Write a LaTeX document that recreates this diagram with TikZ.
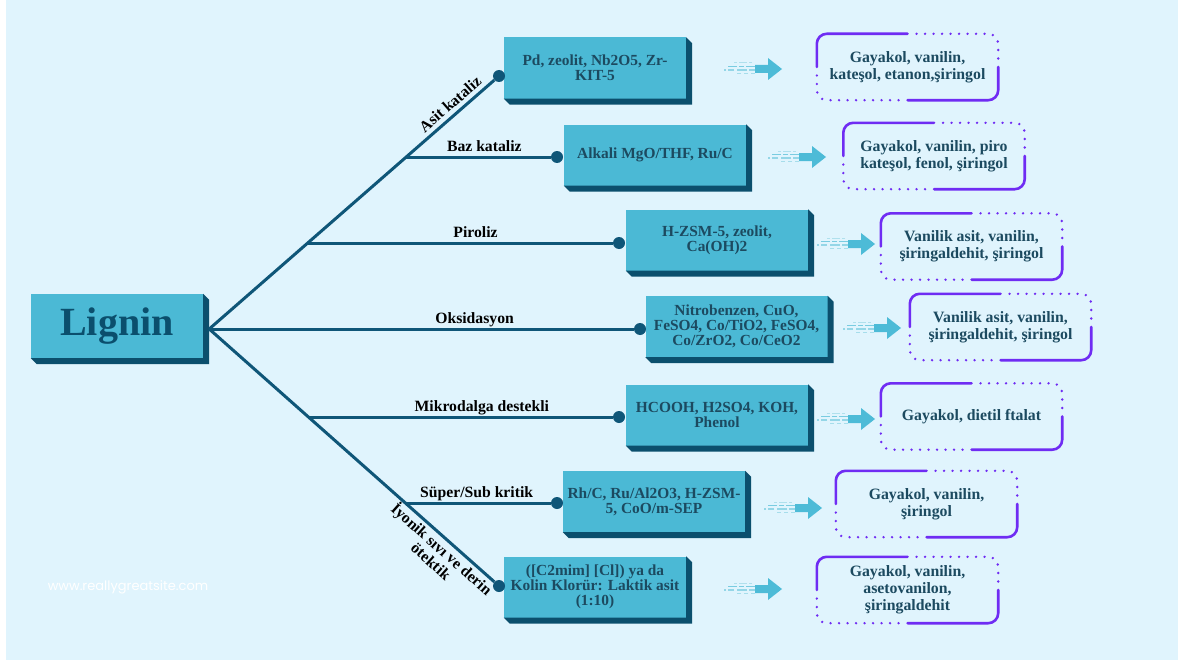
\documentclass[tikz,border=0pt]{standalone}
\usepackage{fontspec}
\setmainfont{Liberation Serif}
\newfontfamily\webfont{Poppins}
\usetikzlibrary{calc,positioning}
\definecolor{bg}{HTML}{E0F4FD}
\definecolor{block}{HTML}{4BB9D5}
\definecolor{blockdark}{HTML}{0B4F6D}
\definecolor{branch}{HTML}{0F5678}
\definecolor{ink}{HTML}{1C4A60}
\definecolor{violet}{HTML}{6F2CF3}
\definecolor{flow}{HTML}{4DBBD7}

\begin{document}
\begin{tikzpicture}[x=1pt,y=-1pt,
    catbox/.style={fill=block,minimum width=182pt,minimum height=61pt,align=center,text=ink,font=\bfseries\fontsize{15.4}{15}\selectfont},
    prodbox/.style={minimum width=181pt,minimum height=66pt,align=center,text=ink,font=\bfseries\fontsize{15.8}{17}\selectfont},
    tag/.style={text=black,font=\bfseries\fontsize{15.7}{16}\selectfont,inner sep=0pt},
    twig/.style={branch,line width=3pt},
    blob/.style={circle,fill=branch,inner sep=0pt,minimum size=12pt},
    solidrim/.style={violet,line width=2.6pt,rounded corners=10pt,line cap=round},
    dotrim/.style={violet,line width=2.6pt,rounded corners=10pt,line cap=round,dash pattern=on 0pt off 8.5pt},
    streak/.pic={
      \fill[flow] (0,0) -- (-14,11) -- (-14,4) -- (-27,4) -- (-27,-4) -- (-14,-4) -- (-14,-11) -- cycle;
      \draw[flow!75,line width=1.3pt,dash pattern=on 9pt off 2pt on 5pt off 2pt] (-27,-2.5) -- (-54,-2.5);
      \draw[flow!60,line width=1.3pt,dash pattern=on 6pt off 2pt on 10pt off 3pt] (-27,1) -- (-58,1);
      \draw[flow!50,line width=1pt,dash pattern=on 4pt off 3pt] (-27,4.5) -- (-46,4.5);
      \draw[flow!45,line width=1pt,dash pattern=on 3pt off 2pt on 8pt off 2pt] (-30,-6) -- (-48,-6);
    }]
  \useasboundingbox (0,0) rectangle (1178,661);
  \fill[white] (0,0) rectangle (1178,661);
  \fill[bg] (6,0) rectangle (1178,660);
  \node[text=white,font=\webfont\fontsize{13}{15}\selectfont] (site) at (128,587) {www.reallygreatsite.com};

  % source block
  \node[fill=block,minimum width=172pt,minimum height=64pt,text=blockdark,font=\bfseries\fontsize{40}{44}\selectfont] (lignin) at (117,326) {Lignin};
  \coordinate (hub) at ($(lignin.east)+(6,3)$);

  % catalysts
  \node[catbox] (cat1) at (595,68) {Pd, zeolit, Nb2O5, Zr-\\KIT-5};
  \node[catbox] (cat2) at (655,155) {Alkali MgO/THF, Ru/C};
  \node[catbox] (cat3) at (717,240) {H-ZSM-5, zeolit,\\Ca(OH)2};
  \node[catbox] (cat4) at (736.5,326.5) {Nitrobenzen, CuO,\\FeSO4, Co/TiO2, FeSO4,\\Co/ZrO2, Co/CeO2};
  \node[catbox] (cat5) at (717,415) {HCOOH, H2SO4, KOH,\\Phenol};
  \node[catbox] (cat6) at (654,501.5) {Rh/C, Ru/Al2O3, H-ZSM-\\5, CoO/m-SEP};
  \node[catbox] (cat7) at (595,587) {([C2mim] [Cl]) ya da\\Kolin Klorür: Laktik asit\\(1:10)};
  \foreach \b in {lignin,cat1,cat2,cat3,cat4,cat5,cat6,cat7}
    \fill[blockdark] (\b.north east) -- ++(6,6) -- ($(\b.south east)+(6,6)$) -- ($(\b.south west)+(6,6)$) -- (\b.south west) -- (\b.south east) -- cycle;

  % products
  \node[prodbox] (prod1) at (907.5,67) {Gayakol, vanilin,\\kateşol, etanon,şiringol};
  \node[prodbox] (prod2) at (934,156) {Gayakol, vanilin, piro\\kateşol, fenol, şiringol};
  \node[prodbox] (prod3) at (971.5,246.5) {Vanilik asit, vanilin,\\şiringaldehit, şiringol};
  \node[prodbox] (prod4) at (1000.5,327) {Vanilik asit, vanilin,\\şiringaldehit, şiringol};
  \node[prodbox] (prod5) at (971.5,416.5) {Gayakol, dietil ftalat};
  \node[prodbox] (prod6) at (926.5,504) {Gayakol, vanilin,\\şiringol};
  \node[prodbox] (prod7) at (907.5,590) {Gayakol, vanilin,\\asetovanilon,\\şiringaldehit};
  \foreach \p in {prod1,prod2,prod3,prod4,prod5,prod6,prod7}{
    \draw[solidrim] (\p.west) |- (\p.north);
    \draw[solidrim] (\p.east) |- (\p.south);
    \draw[dotrim] ([xshift=9pt]\p.north) -| ([yshift=7pt]\p.east);
    \draw[dotrim] ([xshift=-9pt]\p.south) -| ([yshift=-7pt]\p.west);
  }

  % flow arrows
  \pic at (782,69) {streak};
  \pic at (826,157) {streak};
  \pic at (875,244) {streak};
  \pic at (901,328) {streak};
  \pic at (875,419) {streak};
  \pic at (822,508) {streak};
  \pic at (782,589) {streak};

  % branches
  \node[blob] (d1) at (499,76) {};
  \node[blob] (d2) at (557,157) {};
  \node[blob] (d3) at (619,243) {};
  \node[blob] (d4) at (640,329) {};
  \node[blob] (d5) at (619,417) {};
  \node[blob] (d6) at (557,503) {};
  \node[blob] (d7) at (499,586) {};
  \coordinate (j2) at ($(hub)!0.68!(d1)$);
  \coordinate (j3) at ($(hub)!0.34!(d1)$);
  \coordinate (j5) at ($(hub)!0.342!(d7)$);
  \coordinate (j6) at ($(hub)!0.677!(d7)$);
  \draw[twig] (hub) -- node[tag,sloped,above=4pt,pos=0.87] {Asit kataliz} (d1);
  \draw[twig] (d2 -| j2) -- node[tag,above=4pt,text depth=0pt,pos=0.54] {Baz kataliz} (d2);
  \draw[twig] (d3 -| j3) -- node[tag,above=4pt,text depth=0pt,pos=0.55] {Piroliz} (d3);
  \draw[twig] (hub) -- node[tag,above=4pt,text depth=0pt,pos=0.625] {Oksidasyon} (d4);
  \draw[twig] (d5 -| j5) -- node[tag,above=4pt,text depth=0pt,pos=0.57] {Mikrodalga destekli} (d5);
  \draw[twig] (d6 -| j6) -- node[tag,above=4pt,text depth=0pt,pos=0.49] {Süper/Sub kritik} (d6);
  \draw[twig] (hub) -- node[tag,sloped,below=1pt,pos=0.84,align=center] {İyonik sıvı ve derin\\ötektik} (d7);
\end{tikzpicture}
\end{document}
